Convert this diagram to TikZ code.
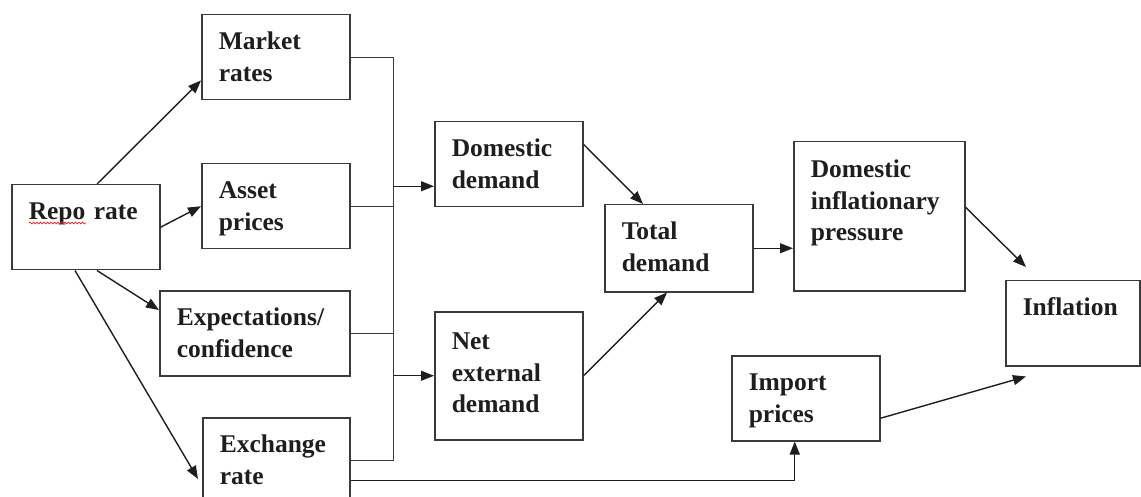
\documentclass[tikz,border=0pt]{standalone}
\usepackage{fontspec}
\setmainfont{Liberation Serif}
\usetikzlibrary{positioning,calc,arrows.meta,decorations.pathmorphing}
\definecolor{Ink}{HTML}{1E1E1E}
\definecolor{Frame}{HTML}{3A3A3A}
\definecolor{Spell}{HTML}{E0202A}
\tikzset{
  flow box/.style={draw=Frame,line width=1.5pt,anchor=north west,align=left,
    inner xsep=17pt,inner ysep=0pt,text width=#1-34pt,text height=35pt,
    text depth=50pt,text=Ink,font=\bfseries\fontsize{25.5}{31.5}\selectfont},
  flow box/.default=148pt,
  flow arrow/.style={->,>={Triangle[length=13pt,width=10pt]},line width=1.4pt,draw=Ink},
  flow line/.style={line width=1.4pt,draw=Frame}
}
\begin{document}
\begin{tikzpicture}[x=1pt,y=-1pt]
  \useasboundingbox (0,0) rectangle (1141,497);
  % first column
  \node[flow box] (repo) at (11,184) {Repo rate};
  \node[flow box] (market) at (201,14) {Market\\rates};
  \node[flow box] (asset) at (201,163) {Asset\\prices};
  \node[flow box=190pt] (expect) at (159,290) {Expectations/\\confidence};
  \node[flow box=147pt] (exchange) at (202,417) {Exchange\\rate};
  % demand
  \node[flow box] (domestic) at (434,121) {Domestic\\demand};
  \node[flow box,text height=38pt,text depth=90pt] (net) at (434,311) {Net\\external\\demand};
  \node[flow box,text depth=52pt] (total) at (604,204) {Total\\demand};
  \node[flow box=171pt,text height=36pt,text depth=113pt] (pressure) at (793,141) {Domestic\\inflationary\\pressure};
  \node[flow box] (import) at (731,355) {Import\\prices};
  \node[flow box=134pt] (inflation) at (1005,280) {Inflation};
  \draw[Spell,line width=.7pt,decorate,decoration={snake,amplitude=.9pt,segment length=3.5pt}]
    ([shift={(18pt,-39pt)}]repo.north west) -- ++(57,0);
  % repo rate out
  \draw[flow arrow] ([xshift=86pt]repo.north west) -- ([yshift=20pt]market.south west);
  \draw[flow arrow] (repo.east) -- (asset.west);
  \draw[flow arrow] ([xshift=86pt]repo.south west) -- ([yshift=-20pt]expect.north west);
  \draw[flow arrow] ([xshift=64pt]repo.south west) -- ([shift={(-4pt,-62pt)}]exchange.north west);
  % collector
  \draw[flow line] (market.east) -- ++(43,0) coordinate (bus) |- (exchange.east);
  \draw[flow line] (asset.east) -- (asset.east -| bus);
  \draw[flow line] (expect.east) -- (expect.east -| bus);
  \coordinate (dd in) at ([yshift=-22pt]domestic.west);
  \draw[flow arrow] (dd in -| bus) -- (dd in);
  \draw[flow arrow] (net.west -| bus) -- (net.west);
  % to inflation
  \draw[flow arrow] ([yshift=20pt]domestic.east) -- ([xshift=39pt]total.north west);
  \draw[flow arrow] (net.east) -- ([xshift=63pt]total.south west);
  \draw[flow arrow] (total.east) -- (total.east -| pressure.west);
  \draw[flow arrow] ([yshift=9pt]pressure.east) -- ([shift={(21pt,13pt)}]inflation.north west);
  \draw[flow arrow] ([yshift=-20pt]exchange.east) -| ([xshift=-11pt]import.south);
  \draw[flow arrow] ([yshift=-20pt]import.east) -- ([shift={(21pt,-10pt)}]inflation.south west);
\end{tikzpicture}
\end{document}
